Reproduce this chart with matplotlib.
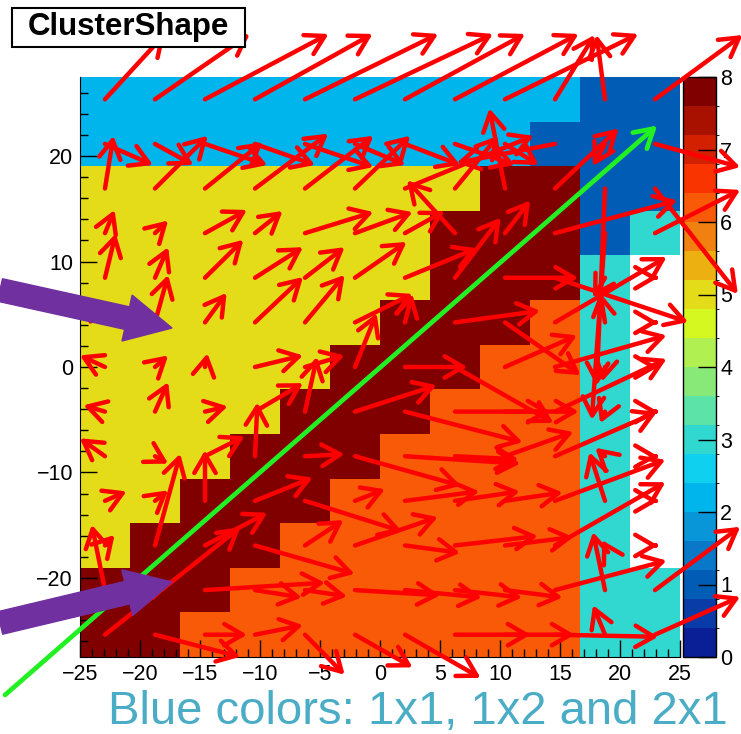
import numpy as np
import matplotlib
matplotlib.use('Agg')
import matplotlib.pyplot as plt
from matplotlib.colors import ListedColormap, BoundaryNorm
from matplotlib.patches import FancyArrowPatch, FancyArrow, Rectangle

plt.rcParams['font.family'] = ['Liberation Sans', 'DejaVu Sans']

# бины гистограммы
x_edges = np.linspace(-25, 25, 13)
y_edges = np.linspace(-27.5, 27.5, 14)

# содержимое бинов (0 = пустой), верхний ряд первым
DR, OR, YE, TE, LB, DB = 7.9, 6.2, 5.0, 3.0, 2.2, 1.0
cells = [
    [LB, LB, LB, LB, LB, LB, LB, LB, LB, LB, DB, DB],
    [LB, LB, LB, LB, LB, LB, LB, LB, LB, DB, DB, DB],
    [YE, YE, YE, YE, YE, YE, YE, YE, DR, DR, DB, DB],
    [YE, YE, YE, YE, YE, YE, YE, DR, DR, DR, DB, TE],
    [YE, YE, YE, YE, YE, YE, YE, DR, DR, DR, TE, 0],
    [YE, YE, YE, YE, YE, YE, DR, DR, DR, OR, TE, 0],
    [YE, YE, YE, YE, YE, DR, DR, DR, OR, OR, TE, 0],
    [YE, YE, YE, YE, DR, DR, DR, OR, OR, OR, TE, 0],
    [YE, YE, YE, DR, DR, DR, OR, OR, OR, OR, TE, 0],
    [YE, YE, DR, DR, DR, OR, OR, OR, OR, OR, TE, 0],
    [YE, DR, DR, DR, OR, OR, OR, OR, OR, OR, TE, 0],
    [DR, DR, DR, OR, OR, OR, OR, OR, OR, OR, TE, TE],
    [DR, DR, OR, OR, OR, OR, OR, OR, OR, OR, TE, TE],
]

# смещения стрелок из центров бинов, верхний ряд первым
U = [
    [5.0, 7.9, 10.3, 9.8, 11.1, 11.5, 10.0, 10.3, 11.1, 3.3, -0.7, 7.3],
    [4.0, 3.2, 5.2, 5.0, 5.7, 4.2, 4.6, 5.0, 2.8, -8.2, -1.0, 7.1],
    [0.7, 4.4, 4.8, 6.1, 5.7, 4.6, 10.7, 3.6, -1.3, 5.3, -0.7, 6.9],
    [0.8, 1.1, 3.5, 2.3, 5.7, 4.8, 3.3, -4.0, 2.1, 10.2, -1.1, 7.1],
    [0.9, 1.1, 3.2, 4.0, 3.3, 4.3, 6.0, 3.8, 6.1, 11.1, -1.0, 0.25],
    [-1.7, 1.1, 1.8, 4.0, 3.3, 4.8, 0.6, 7.1, 6.3, 9.3, -0.4, 0.25],
    [-2.1, 1.1, 0.2, 4.0, 3.3, 1.8, 5.2, 8.2, 6.0, 9.3, -0.25, 0.25],
    [-1.8, 1.1, 1.9, 4.0, 1.0, 6.8, 9.8, 10.3, 3.8, 9.3, -0.4, 0.25],
    [-2.1, 1.1, 3.3, 0.2, 3.3, 8.8, 9.6, 5.3, 5.7, 8.5, -0.8, 0.25],
    [1.8, 1.1, 0.0, 4.8, 8.1, 2.5, 6.2, 5.4, 4.8, 9.2, -1.3, 0.25],
    [0.8, 2.1, 5.2, 8.3, 3.2, 6.9, 4.6, 6.9, 5.7, 9.2, -0.25, 0.25],
    [-1.1, -0.25, 10.0, 3.9, 3.5, 7.1, 6.4, 5.6, 4.8, 9.3, -1.0, 7.1],
    [11.3, 7.1, 3.5, 4.0, 3.3, 4.8, 6.3, 6.3, 5.8, 8.6, -1.0, 7.1],
]
V = [
    [6.2, 6.2, 6.2, 6.2, 6.2, 6.2, 6.2, 6.2, 6.2, 6.1, 6.1, 6.1],
    [-2.0, -2.0, -2.0, -2.0, -2.2, -2.0, -2.0, -2.0, -2.0, -1.8, -2.1, -2.2],
    [5.0, 5.0, 4.4, 5.2, 5.0, 5.0, 5.0, 5.0, 7.6, 5.7, -18.7, -10.0],
    [2.2, 1.2, 2.2, 2.1, 2.0, 2.0, 2.1, 5.0, 3.1, 3.1, -17.7, 4.1],
    [4.2, 2.9, 3.6, 2.9, 2.9, 3.4, 2.8, 5.7, 0.0, -4.2, -1.9, 0.0],
    [2.4, 4.5, 2.8, 4.3, 4.5, 2.7, 2.7, 1.1, -5.0, 6.2, 2.8, 0.0],
    [1.1, 1.1, 1.3, 1.1, 1.1, 5.1, 0.0, -5.3, 3.0, 3.0, -1.4, 0.0],
    [0.6, 2.8, 0.5, 2.7, 5.2, 2.5, -2.9, 0.0, 0.0, 5.0, -1.1, 0.0],
    [1.7, -0.7, 1.9, 5.1, 0.2, -2.8, -0.7, -0.3, 2.3, 4.2, 0.8, 0.0],
    [0.9, 1.0, 4.8, 2.2, -2.9, 1.1, 0.9, 0.9, 0.8, 3.9, 4.6, 0.0],
    [1.0, 8.7, 3.1, -2.7, 2.4, 2.7, -0.7, 0.9, 0.8, 6.0, 0.5, 0.0],
    [6.2, -1.1, 0.7, -0.7, -0.6, -0.5, -0.7, -0.7, -0.7, 2.8, 5.5, 6.0],
    [10.2, -2.1, 0.0, 0.9, -3.8, -3.1, -4.1, 0.0, 0.0, -0.2, 2.8, 3.6],
]

# диагональ y = x
diag_x = [-31.25, 23.1]
diag_y = [-31.1, 22.9]

# палитра (20 уровней от 0 до 8)
palette = ['#0a1e96', '#0a3ca8', '#005cb4', '#0a78c8', '#0896d8',
           '#00b4ec', '#10d0f0', '#30d8d0', '#5ce4a8', '#88e878',
           '#b0f050', '#d4f820', '#e4dc18', '#ecb010', '#f08010',
           '#f85a08', '#fa3400', '#d22000', '#a81000', '#800000']
levels = np.linspace(0, 8, 21)

W, H = 741, 734
fig = plt.figure(figsize=(W / 100, H / 100), dpi=100)
ax = fig.add_axes([80 / W, 77 / H, 600 / W, 580 / H])
cax = fig.add_axes([683 / W, 77 / H, 33 / W, 580 / H])
ax.set_zorder(2)
cax.set_zorder(1)

cmap = ListedColormap(palette)
norm = BoundaryNorm(levels, cmap.N)
vals = np.ma.masked_equal(np.flipud(np.array(cells)), 0)
mesh = ax.pcolormesh(x_edges, y_edges, vals, cmap=cmap, norm=norm)

cb = fig.colorbar(mesh, cax=cax, ticks=range(9))
cb.outline.set_linewidth(1)
cax.tick_params(direction='in', length=13, width=1, labelsize=15.5, pad=3)

# стрелки
xc = 0.5 * (x_edges[:-1] + x_edges[1:])
yc = (0.5 * (y_edges[:-1] + y_edges[1:]))[::-1]
style = '->,head_length=0.6,head_width=0.35'
for r in range(len(yc)):
    for c in range(len(xc)):
        x0, y0 = xc[c], yc[r]
        p = FancyArrowPatch((x0, y0), (x0 + U[r][c], y0 + V[r][c]),
                            arrowstyle=style, mutation_scale=22, lw=3.2,
                            color='red', shrinkA=0, shrinkB=0,
                            clip_on=False, zorder=5)
        ax.add_patch(p)

g = FancyArrowPatch((diag_x[0], diag_y[0]), (diag_x[1], diag_y[1]),
                    arrowstyle=style, mutation_scale=22, lw=3.4,
                    color='#22f022', shrinkA=0, shrinkB=0,
                    clip_on=False, zorder=6)
ax.add_patch(g)

ax.set_xlim(-25, 25)
ax.set_ylim(-27.5, 27.5)
ax.set_xticks(range(-25, 26, 5))
ax.set_xticks(range(-25, 26, 1), minor=True)
ax.set_yticks([-20, -10, 0, 10, 20])
ax.set_yticks(np.arange(-26, 27, 2), minor=True)
ax.tick_params(which='major', direction='in', length=12, width=1,
               labelsize=15.5, pad=5)
ax.tick_params(which='minor', direction='in', length=6, width=1)
ax.spines['top'].set_visible(False)
ax.spines['right'].set_visible(False)

# фиолетовые стрелки-указатели
for (x1, y1, x2, y2) in [(0, 290, 172, 328), (0, 623, 172, 582)]:
    a = FancyArrow(x1 / 100, (H - y1) / 100, (x2 - x1) / 100, (y1 - y2) / 100,
                   width=0.23, head_width=0.47, head_length=0.46,
                   length_includes_head=True, color='#7030a0',
                   transform=fig.dpi_scale_trans, zorder=9)
    fig.add_artist(a)

# заголовок в рамке
box = Rectangle((12 / W, (H - 47) / H), 233 / W, 39 / H,
                transform=fig.transFigure, fc='white', ec='black',
                lw=1.5, zorder=10)
fig.add_artist(box)
fig.text(128 / W, (H - 27) / H, 'ClusterShape', ha='center', va='center',
         fontsize=22.5, fontweight='bold', zorder=11)

fig.text(108 / W, (H - 724) / H, 'Blue colors: 1x1, 1x2 and 2x1',
         color='#4bacc6', fontsize=34, ha='left', va='baseline', zorder=11)

fig.savefig('out.png', dpi=100)
